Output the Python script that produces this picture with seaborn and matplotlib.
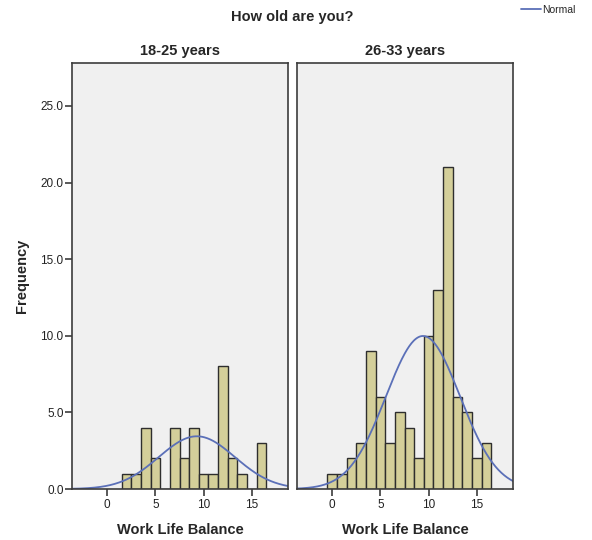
import numpy as np
import pandas as pd
import matplotlib
matplotlib.use("Agg")
import matplotlib.pyplot as plt
import seaborn as sns

# Data (bin centre -> frequency)
scores = list(range(0, 17))
counts_18_25 = [0, 0, 1, 1, 4, 2, 0, 4, 2, 4, 1, 1, 8, 2, 1, 0, 3]
counts_26_33 = [1, 1, 2, 3, 9, 6, 3, 5, 4, 2, 10, 13, 21, 6, 5, 2, 3]
groups = ["18-25 years", "26-33 years"]
y_ticks = [0, 5, 10, 15, 20, 25]
x_ticks = [0, 5, 10, 15]

sns.set_theme(style="white")
plt.rcParams["font.family"] = ["Liberation Sans", "DejaVu Sans"]

bar_color = "#D4CF9A"
line_color = "#5B70B8"
frame_color = "#3C3C3C"

fig = plt.figure(figsize=(5.92, 5.4), dpi=100)
ax1 = fig.add_axes([72/592, 1-489/540, 216/592, 426/540])
ax2 = fig.add_axes([297/592, 1-489/540, 216/592, 426/540])
axes = [ax1, ax2]

for ax, grp, counts in zip(axes, groups, [counts_18_25, counts_26_33]):
    vals = np.repeat(scores, counts)
    ax.set_facecolor("#F0F0F0")
    sns.histplot(x=vals, discrete=True, ax=ax, color=bar_color, alpha=1,
                 edgecolor="#2E2E2E", linewidth=1.0)
    mu = vals.mean()
    sd = vals.std(ddof=1)
    xs = np.linspace(-4, 19, 300)
    ys = len(vals) * np.exp(-0.5 * ((xs - mu) / sd) ** 2) / (sd * np.sqrt(2 * np.pi))
    sns.lineplot(x=xs, y=ys, ax=ax, color=line_color, linewidth=1.3,
                 label="Normal" if ax is ax2 else None, legend=False)
    ax.set_xlim(-3.65, 18.75)
    ax.set_ylim(0, 27.8)
    ax.set_xticks(x_ticks)
    ax.set_xticklabels([str(t) for t in x_ticks], fontsize=8.5, color="#222222")
    ax.set_title(grp, fontsize=10.5, fontweight="bold", pad=6)
    ax.set_xlabel("Work Life Balance", fontsize=10.5, fontweight="bold", labelpad=9)
    ax.set_ylabel("")
    for s in ax.spines.values():
        s.set_color(frame_color)
        s.set_linewidth(1.2)
        s.set_visible(True)
    ax.tick_params(axis="x", bottom=True, direction="out", length=5, width=1.2,
                   color=frame_color, pad=2)

ax1.set_yticks(y_ticks)
ax1.set_yticklabels([f"{t:.1f}" for t in y_ticks], fontsize=8.5, color="#222222")
ax1.tick_params(axis="y", left=True, direction="out", length=5, width=1.2,
                color=frame_color, pad=1)
ax1.set_ylabel("Frequency", fontsize=10.5, fontweight="bold", labelpad=8)
ax2.set_yticks([])

fig.text(0.5 * (72 + 513) / 592, 1 - 17/540, "How old are you?", ha="center", va="center",
         fontsize=10.5, fontweight="bold")

handles, labels = ax2.get_legend_handles_labels()
fig.legend(handles, labels, loc="upper right", bbox_to_anchor=(0.985, 1.005), frameon=False,
           fontsize=7.5, handlelength=2.0, handletextpad=0.1, borderaxespad=0.3)

fig.savefig("out.png", dpi=100, facecolor="white")
